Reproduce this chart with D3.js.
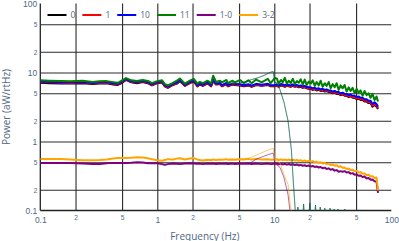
<!DOCTYPE html>
<html lang="en">
<head>
<meta charset="UTF-8">
<title>Power spectra</title>
<style>
  body { margin: 0; background: #fff; }
  svg { display: block; font-family: "Open Sans", Verdana, Arial, sans-serif; }
  .label { fill: #506784; }
</style>
</head>
<body>
<svg width="399" height="241"></svg>
<script src="https://cdn.jsdelivr.net/npm/d3@7/dist/d3.min.js"></script>
<script>
// ---- data ----
const freq = [
  0.1, 0.12, 0.15, 0.18, 0.23, 0.28, 0.32, 0.37, 0.42, 0.46, 0.5, 0.54, 0.6, 0.67, 0.75, 0.83, 0.9,
  1.0, 1.1, 1.16, 1.23, 1.36, 1.47, 1.56, 1.72, 1.9, 2.05, 2.2, 2.31, 2.45, 2.7, 2.88, 3.0, 3.18,
  3.43, 3.57, 3.9, 4.0, 4.4, 4.6, 5.1, 5.5, 6.0, 6.4, 7.0, 7.8, 8.8, 9.3, 10.1,
  10.5, 10.9, 11.4, 11.8, 12.3, 12.8, 13.3, 13.8, 14.4, 15.0, 15.6, 16.2, 16.8, 17.5, 18.2, 18.9,
  19.7, 20.5, 21.3, 22.2, 23.0, 24.0, 24.9, 25.9, 27.0, 28.0, 29.2, 30.3, 31.5, 32.8, 34.1, 35.5,
  36.9, 38.4, 39.9, 41.5, 43.2, 44.9, 46.7, 48.6, 50.5, 52.5, 54.6, 56.8, 59.1, 61.5, 63.9, 66.5,
  69.1, 71.9, 74.8, 77.0
];

const ch0 = [
  7.1, 7.0, 6.95, 6.9, 7.0, 6.8, 6.9, 7.0, 6.7, 6.6, 7.1, 7.8, 7.2, 7.0, 7.25, 7.0, 6.5,
  7.0, 7.15, 6.3, 6.0, 6.6, 6.9, 7.5, 6.4, 7.0, 7.4, 6.3, 6.7, 6.4, 6.95, 6.3, 7.5, 6.7,
  6.8, 6.3, 6.8, 6.3, 6.7, 6.6, 6.5, 6.3, 6.5, 6.2, 6.6, 6.4, 6.6, 6.3, 6.3,
  6.4, 6.2, 6.5, 6.4, 6.2, 6.4, 6.3, 6.2, 6.4, 6.2, 6.3, 6.1, 6.2, 6.0, 6.1, 5.9,
  5.8, 5.8, 5.6, 5.7, 5.5, 5.6, 5.4, 5.5, 5.3, 5.4, 5.2, 5.2, 5.0, 5.1, 4.9, 4.9,
  4.7, 4.8, 4.6, 4.6, 4.4, 4.5, 4.3, 4.3, 4.1, 4.2, 4.0, 4.0, 3.8, 3.8, 3.6, 3.6,
  3.2, 3.4, 3.2, 2.95
];
const ch1 = [
  7.28, 7.2, 7.1, 7.05, 7.2, 6.9, 7.05, 7.1, 6.85, 6.7, 7.3, 7.95, 7.3, 7.15, 7.4, 7.15, 6.6,
  7.1, 7.3, 6.4, 6.1, 6.7, 7.0, 7.7, 6.5, 7.1, 7.6, 6.4, 6.8, 6.5, 7.1, 6.4, 7.7, 6.8,
  6.9, 6.4, 6.9, 6.4, 6.8, 6.7, 6.6, 6.4, 6.6, 6.3, 6.7, 6.5, 6.7, 6.4, 6.4,
  6.5, 6.3, 6.6, 6.5, 6.3, 6.5, 6.4, 6.3, 6.5, 6.3, 6.4, 6.2, 6.3, 6.1, 6.2, 6.0,
  5.9, 5.9, 5.7, 5.8, 5.6, 5.7, 5.5, 5.6, 5.4, 5.5, 5.3, 5.3, 5.1, 5.2, 5.0, 5.0,
  4.8, 4.9, 4.7, 4.7, 4.5, 4.6, 4.4, 4.4, 4.2, 4.3, 4.1, 4.1, 3.9, 3.9, 3.7, 3.7,
  3.3, 3.5, 3.3, 3.0
];
const ch10 = [
  7.4, 7.35, 7.25, 7.2, 7.35, 7.05, 7.2, 7.25, 7.0, 6.85, 7.45, 8.05, 7.45, 7.3, 7.55, 7.3, 6.75,
  7.25, 7.45, 6.55, 6.25, 6.85, 7.15, 7.85, 6.65, 7.25, 7.75, 6.55, 6.95, 6.65, 7.25, 6.55, 7.9, 6.95,
  7.05, 6.55, 7.05, 6.55, 6.95, 6.85, 6.75, 6.55, 6.75, 6.45, 6.85, 6.65, 6.85, 6.55, 6.55,
  6.7, 6.5, 6.8, 6.7, 6.5, 6.7, 6.6, 6.5, 6.7, 6.5, 6.6, 6.4, 6.5, 6.3, 6.4, 6.2,
  6.1, 6.1, 5.9, 6.0, 5.8, 5.9, 5.7, 5.8, 5.6, 5.7, 5.5, 5.5, 5.3, 5.4, 5.2, 5.2,
  5.0, 5.1, 4.9, 4.9, 4.7, 4.8, 4.6, 4.6, 4.4, 4.5, 4.3, 4.3, 4.1, 4.1, 3.9, 3.9,
  3.5, 3.7, 3.5, 3.2
];
const ch11 = [
  7.7, 7.6, 7.5, 7.45, 7.6, 7.3, 7.45, 7.5, 7.25, 7.1, 7.7, 8.3, 7.7, 7.55, 7.8, 7.55, 7.0,
  7.5, 7.7, 6.8, 6.5, 7.1, 7.6, 8.2, 6.9, 7.6, 8.1, 6.9, 7.3, 7.0, 7.6, 6.9, 9.0, 7.3,
  7.6, 7.2, 7.8, 7.0, 7.6, 7.2, 7.8, 7.0, 7.7, 7.0, 7.9, 7.2, 8.1, 7.0, 8.3,
  8.2, 6.9, 7.8, 7.2, 8.4, 6.9, 7.6, 7.0, 8.1, 6.8, 7.5, 7.1, 8.0, 6.7, 7.9, 6.6,
  7.4, 6.9, 7.7, 6.4, 7.3, 6.5, 7.6, 6.2, 7.0, 6.4, 7.3, 5.9, 6.8, 6.1, 7.0, 5.6,
  6.5, 5.9, 6.6, 5.3, 6.1, 5.4, 6.0, 5.0, 5.8, 5.1, 5.5, 4.6, 5.4, 4.7, 5.0, 4.3,
  4.9, 4.0, 4.5, 3.8
];
const diff10 = [
  0.49, 0.49, 0.49, 0.488, 0.478, 0.472, 0.472, 0.485, 0.49, 0.49, 0.49, 0.49, 0.492, 0.5, 0.495, 0.485, 0.485,
  0.485, 0.47, 0.458, 0.47, 0.48, 0.476, 0.47, 0.478, 0.485, 0.48, 0.475, 0.478, 0.47, 0.48, 0.475, 0.48, 0.472,
  0.48, 0.474, 0.48, 0.472, 0.478, 0.472, 0.48, 0.474, 0.48, 0.472, 0.478, 0.47, 0.478, 0.47, 0.476,
  0.48, 0.466, 0.476, 0.465, 0.474, 0.462, 0.472, 0.46, 0.468, 0.455, 0.464, 0.45, 0.458, 0.445, 0.452, 0.44,
  0.448, 0.435, 0.442, 0.428, 0.435, 0.42, 0.426, 0.41, 0.418, 0.4, 0.408, 0.39, 0.398, 0.378, 0.385, 0.365,
  0.372, 0.365, 0.372, 0.355, 0.36, 0.342, 0.348, 0.33, 0.335, 0.318, 0.322, 0.305, 0.31, 0.292, 0.296, 0.28,
  0.282, 0.266, 0.262, 0.18
];
const diff32 = [
  0.558, 0.558, 0.558, 0.55, 0.537, 0.535, 0.54, 0.55, 0.565, 0.575, 0.577, 0.575, 0.58, 0.59, 0.588, 0.57, 0.555,
  0.535, 0.525, 0.54, 0.555, 0.55, 0.565, 0.57, 0.55, 0.565, 0.575, 0.55, 0.54, 0.53, 0.545, 0.535, 0.55, 0.54,
  0.55, 0.545, 0.555, 0.545, 0.55, 0.545, 0.555, 0.55, 0.56, 0.55, 0.56, 0.55, 0.555, 0.545, 0.55,
  0.555, 0.54, 0.55, 0.54, 0.55, 0.535, 0.548, 0.535, 0.545, 0.53, 0.54, 0.525, 0.535, 0.52, 0.53, 0.515,
  0.525, 0.51, 0.52, 0.5, 0.51, 0.49, 0.5, 0.48, 0.49, 0.47, 0.478, 0.455, 0.465, 0.445, 0.452, 0.43,
  0.438, 0.415, 0.42, 0.4, 0.405, 0.385, 0.39, 0.37, 0.375, 0.355, 0.36, 0.34, 0.345, 0.325, 0.33, 0.31,
  0.315, 0.295, 0.3, 0.195
];

// thin (decimated) spectra around the 10 Hz cut-off
const thinFreqTop = [4.0, 5.0, 5.6, 6.4, 7.3, 8.2, 9.3, 9.8, 10.1, 10.3, 11.2, 12.1, 13.1, 14.0, 14.5, 15.1,
  15.5, 15.9, 16.8, 17.8, 18.9, 20.1, 21.3, 22.5, 23.6, 24.7, 25.8, 27.0, 28.5, 30.0, 31.2, 32.5,
  33.7, 35.0, 37.5, 40.0, 42.0];
const thinTop = [6.9, 7.0, 7.3, 7.9, 8.4, 9.1, 10.1, 10.3, 7.0, 7.3, 5.6, 3.7, 2.0, 0.75, 0.28, 0.1,
  0.03, 0.112, 0.03, 0.124, 0.03, 0.128, 0.03, 0.12, 0.03, 0.112, 0.03, 0.108, 0.03, 0.108, 0.03, 0.105,
  0.03, 0.105, 0.03, 0.105, 0.03];
const thinFreqBot = [4.0, 5.4, 6.2, 7.1, 8.3, 9.8, 10.1, 11.2, 12.1, 13.1, 13.7, 14.2];
const thin10 = [0.48, 0.48, 0.49, 0.56, 0.62, 0.68, 0.48, 0.42, 0.30, 0.17, 0.09, 0.06];
const thin32 = [0.55, 0.56, 0.58, 0.64, 0.72, 0.80, 0.56, 0.49, 0.33, 0.24, 0.12, 0.086];

const names = ["0", "1", "10", "11", "1-0", "3-2"];
const colors = ["#000000", "#ff0000", "#0000ff", "#008000", "#800080", "#ffa500"];
const values = [ch0, ch1, ch10, ch11, diff10, diff32];

const tickVals = [0.1, 0.2, 0.5, 1, 2, 5, 10, 20, 50, 100];
const tickLabels = ["0.1", "2", "5", "1", "2", "5", "10", "2", "5", "100"];

// ---- layout ----
const margin = { top: 3.5, right: 7.7, bottom: 30.5, left: 40.3 },
      width = 399 - margin.left - margin.right,
      height = 241 - margin.top - margin.bottom;

const svg = d3.select("svg");
const g = svg.append("g").attr("transform", `translate(${margin.left},${margin.top})`);

const x = d3.scaleLog().domain([0.1, 100]).range([0, width]);
const y = d3.scaleLog().domain([0.1, 100]).range([height, 0]);
const isDecade = v => Math.abs(Math.log10(v) - Math.round(Math.log10(v))) < 1e-9;
const fmt = v => tickLabels[tickVals.indexOf(v)];

// grid + axes
const yAxis = g.append("g")
  .call(d3.axisLeft(y).tickValues(tickVals).tickFormat(fmt).tickSize(-width).tickPadding(3));
const xAxis = g.append("g")
  .attr("transform", `translate(0,${height})`)
  .call(d3.axisBottom(x).tickValues(tickVals).tickFormat(fmt).tickSize(-height).tickPadding(3));

[yAxis, xAxis].forEach(ax => {
  ax.select(".domain").attr("stroke", "#222").attr("stroke-width", 1.3);
  ax.selectAll(".tick line")
    .attr("stroke", "#2a2a2a").attr("stroke-width", 1.1)
    .attr("display", d => (d === 100 || d === 0.1) ? "none" : null);
  ax.selectAll(".tick text")
    .attr("class", "label")
    .style("font-size", d => isDecade(d) ? "8.5px" : "6.5px");
});
yAxis.select(".domain").attr("d", `M0,0V${height}`);
xAxis.select(".domain").attr("d", `M0,0H${width}`);
yAxis.selectAll(".tick text").attr("dy", "0.35em");
xAxis.selectAll(".tick text").attr("y", d => isDecade(d) ? 6 : 5);

// series
g.append("clipPath").attr("id", "clip")
  .append("rect").attr("x", 0).attr("y", 0).attr("width", width).attr("height", height);
const plot = g.append("g").attr("clip-path", "url(#clip)");

const line = d3.line().x(d => x(d[0])).y(d => y(d[1]));

values.forEach((vals, i) => {
  plot.append("path")
    .datum(d3.zip(freq, vals))
    .attr("fill", "none")
    .attr("stroke", colors[i])
    .attr("stroke-width", 2)
    .attr("stroke-linejoin", "round")
    .attr("d", line);
});

// thin traces on top
[[2, 0.35], [3, 0.55]].forEach(([i, op]) => {
  plot.append("path")
    .datum(d3.zip(thinFreqTop, thinTop))
    .attr("fill", "none")
    .attr("stroke", colors[i])
    .attr("stroke-width", 1)
    .attr("stroke-opacity", op)
    .attr("d", line);
});
[[thin10, 4], [thin32, 5]].forEach(([vals, i]) => {
  plot.append("path")
    .datum(d3.zip(thinFreqBot, vals))
    .attr("fill", "none")
    .attr("stroke", colors[i])
    .attr("stroke-width", 1)
    .attr("stroke-opacity", 0.6)
    .attr("d", line);
});

// legend
const legend = svg.append("g").attr("transform", "translate(47.5,15)");
let lx = 0;
names.forEach((name, i) => {
  legend.append("line")
    .attr("x1", lx).attr("x2", lx + 19).attr("y1", 0).attr("y2", 0)
    .attr("stroke", colors[i]).attr("stroke-width", 2);
  const t = legend.append("text")
    .attr("class", "label")
    .attr("x", lx + 23).attr("y", 3)
    .style("font-size", "8.5px")
    .text(name);
  lx += 23 + t.node().getComputedTextLength() + 7;
});

// axis titles
svg.append("text")
  .attr("class", "label")
  .attr("x", margin.left + width / 2 - 11).attr("y", 239.5)
  .attr("text-anchor", "middle")
  .style("font-size", "10px")
  .text("Frequency (Hz)");

svg.append("text")
  .attr("class", "label")
  .attr("transform", "translate(9.5,107) rotate(-90)")
  .attr("text-anchor", "middle")
  .style("font-size", "10px")
  .text("Power (aW/rtHz)");
</script>
</body>
</html>
